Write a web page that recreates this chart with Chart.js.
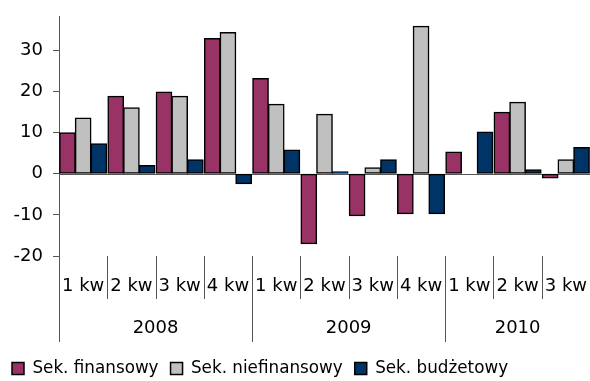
<!DOCTYPE html>
<html lang="pl">
<head>
<meta charset="utf-8">
<script src="https://cdn.jsdelivr.net/npm/chart.js@4/dist/chart.umd.min.js"></script>
<style>
  html, body { margin: 0; padding: 0; background: #fff; }
  #wrap { width: 590px; height: 381px; }
</style>
</head>
<body>
<div id="wrap"><canvas id="c" width="590" height="381"></canvas></div>
<script>
// Quarterly categories, grouped by year below the axis
const quarterLabels = ['1 kw', '2 kw', '3 kw', '4 kw', '1 kw', '2 kw', '3 kw', '4 kw', '1 kw', '2 kw', '3 kw'];
const yearLabels = ['2008', '2009', '2010'];
const yearSpans = [4, 4, 3];

// Series values (%)
const finansowy = [10.0, 18.9, 19.9, 32.9, 23.2, -17.0, -10.2, -9.7, 5.3, 15.0, -1.0];
const niefinansowy = [13.6, 16.1, 18.9, 34.4, 16.9, 14.5, 1.5, 35.9, null, 17.4, 3.4];
const budzetowy = [7.3, 2.0, 3.4, -2.4, 5.8, 0.5, 3.4, -9.7, 10.2, 1.0, 6.4];

const seriesNames = ['Sek. finansowy', 'Sek. niefinansowy', 'Sek. budżetowy'];

const FONT = 'DejaVu Sans';
const AXIS_SIZE = 18;
const LEGEND_SIZE = 16.8;
const AXIS_COLOR = '#555555';

// Zero line plus the two-level category axis (quarters, then years)
const categoryAxis = {
  id: 'categoryAxis',
  beforeDatasetsDraw(chart) {
    const { ctx, chartArea } = chart;
    const y0 = chart.scales.y.getPixelForValue(0);
    ctx.save();
    ctx.strokeStyle = AXIS_COLOR;
    ctx.lineWidth = 1;
    ctx.beginPath();
    ctx.moveTo(chartArea.left, Math.round(y0) + 0.5);
    ctx.lineTo(chartArea.right, Math.round(y0) + 0.5);
    ctx.stroke();
    ctx.restore();
  },
  afterDraw(chart) {
    const { ctx, chartArea } = chart;
    const x = chart.scales.x;
    const n = quarterLabels.length;
    const w = (chartArea.right - chartArea.left) / n;
    const top = chartArea.bottom;
    const qBottom = top + 43;
    const yBottom = top + 86;
    ctx.save();
    ctx.strokeStyle = AXIS_COLOR;
    ctx.lineWidth = 1;
    // year boundaries (long) and quarter boundaries (short)
    const yearStarts = new Set();
    let acc = 0;
    yearSpans.forEach(s => { yearStarts.add(acc); acc += s; });
    for (let i = 0; i < n; i++) {
      const bx = Math.round(chartArea.left + i * w) + 0.5;
      ctx.beginPath();
      ctx.moveTo(bx, top);
      ctx.lineTo(bx, yearStarts.has(i) ? yBottom : qBottom);
      ctx.stroke();
    }
    ctx.fillStyle = '#000';
    ctx.font = AXIS_SIZE + 'px "' + FONT + '"';
    ctx.textAlign = 'center';
    ctx.textBaseline = 'middle';
    quarterLabels.forEach((lbl, i) => {
      ctx.fillText(lbl, x.getPixelForValue(i), top + 30);
    });
    acc = 0;
    yearLabels.forEach((lbl, j) => {
      const cx = chartArea.left + (acc + yearSpans[j] / 2) * w;
      ctx.fillText(lbl, cx, top + 72);
      acc += yearSpans[j];
    });
    ctx.restore();
  }
};

const common = { borderColor: '#000', borderWidth: 1.5, borderSkipped: false, inflateAmount: 0.5 };

new Chart(document.getElementById('c'), {
  type: 'bar',
  data: {
    labels: quarterLabels,
    datasets: [
      Object.assign({ label: seriesNames[0], data: finansowy, backgroundColor: '#993366' }, common),
      Object.assign({ label: seriesNames[1], data: niefinansowy, backgroundColor: '#C0C0C0' }, common),
      Object.assign({ label: seriesNames[2], data: budzetowy, backgroundColor: '#003366' }, common)
    ]
  },
  options: {
    responsive: false,
    animation: false,
    devicePixelRatio: 1,
    layout: { padding: { top: 16, right: 0, left: 0, bottom: -6 } },
    datasets: { bar: { categoryPercentage: 0.975, barPercentage: 1 } },
    plugins: {
      legend: {
        position: 'bottom',
        align: 'start',
        labels: {
          boxWidth: 12,
          boxHeight: 12,
          padding: 12,
          color: '#000',
          font: { family: FONT, size: LEGEND_SIZE }
        }
      },
      tooltip: { enabled: false }
    },
    scales: {
      x: {
        ticks: { display: false },
        grid: { display: false },
        border: { display: false },
        afterFit(scale) { scale.height = 92.2; }
      },
      y: {
        min: -20,
        max: 38.4,
        ticks: {
          stepSize: 10,
          includeBounds: false,
          color: '#000',
          padding: 10,
          font: { family: FONT, size: AXIS_SIZE },
          callback: v => String(v)
        },
        grid: { drawOnChartArea: false, drawTicks: true, tickLength: 6, color: AXIS_COLOR },
        border: { display: true, color: AXIS_COLOR },
        afterFit(scale) {
          scale.width = 59;
          scale.paddingTop = 0;
          scale.paddingBottom = 0;
        }
      }
    }
  },
  plugins: [categoryAxis]
});
</script>
</body>
</html>
